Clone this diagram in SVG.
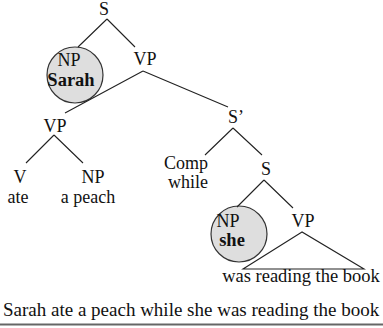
<svg xmlns="http://www.w3.org/2000/svg" width="383" height="328" viewBox="0 0 383 328">
<style>
text{font-family:"Liberation Serif","Times New Roman",Times,serif;font-size:18px;fill:#111;text-anchor:middle}
.b{font-weight:bold;font-size:18.5px}
.w{font-size:18.5px}
.s{font-size:19px;text-anchor:start}
.l{stroke:#222;stroke-width:1.1;fill:none}
.c{fill:#dedede;stroke:#333;stroke-width:1.2}
</style>
<rect width="383" height="328" fill="#fff"/>
<g id="np-sarah"><circle class="c" cx="75" cy="75" r="28"/><text x="69" y="66">NP</text><text class="b" x="71" y="86">Sarah</text></g>
<g id="np-she"><circle class="c" cx="239" cy="234" r="28"/><text x="228" y="227">NP</text><text class="b" x="232" y="246">she</text></g>
<g id="edges">
<path class="l" d="M107,19 L78,47 M107,19 L135,47 M143,71 L65,113 M143,71 L228,107 M54,135 L26,163 M54,135 L83,163 M233,128 L205,155 M233,128 L262,155 M264,180 L237,207 M264,180 L293,208"/>
<path class="l" d="M302,232 L243,269 L364,269 Z"/>
</g>
<g id="s"><text x="104" y="15">S</text></g>
<g id="vp1"><text x="145" y="65">VP</text></g>
<g id="vp2"><text x="55" y="132">VP</text></g>
<g id="v"><text x="20" y="183">V</text><text x="18" y="203">ate</text></g>
<g id="np-peach"><text x="93" y="183">NP</text><text x="88" y="203">a peach</text></g>
<g id="sbar"><text x="236" y="123">S’</text></g>
<g id="comp"><text x="186" y="169">Comp</text><text x="188" y="188">while</text></g>
<g id="s2"><text x="266" y="175">S</text></g>
<g id="vp3"><text x="303" y="227">VP</text><text class="w" x="301" y="282">was reading the book</text></g>
<g id="sentence"><text class="s" x="3" y="316">Sarah ate a peach while she was reading the book</text>
<line x1="0" y1="324.5" x2="383" y2="324.5" stroke="#666" stroke-width="2"/></g>
</svg>
